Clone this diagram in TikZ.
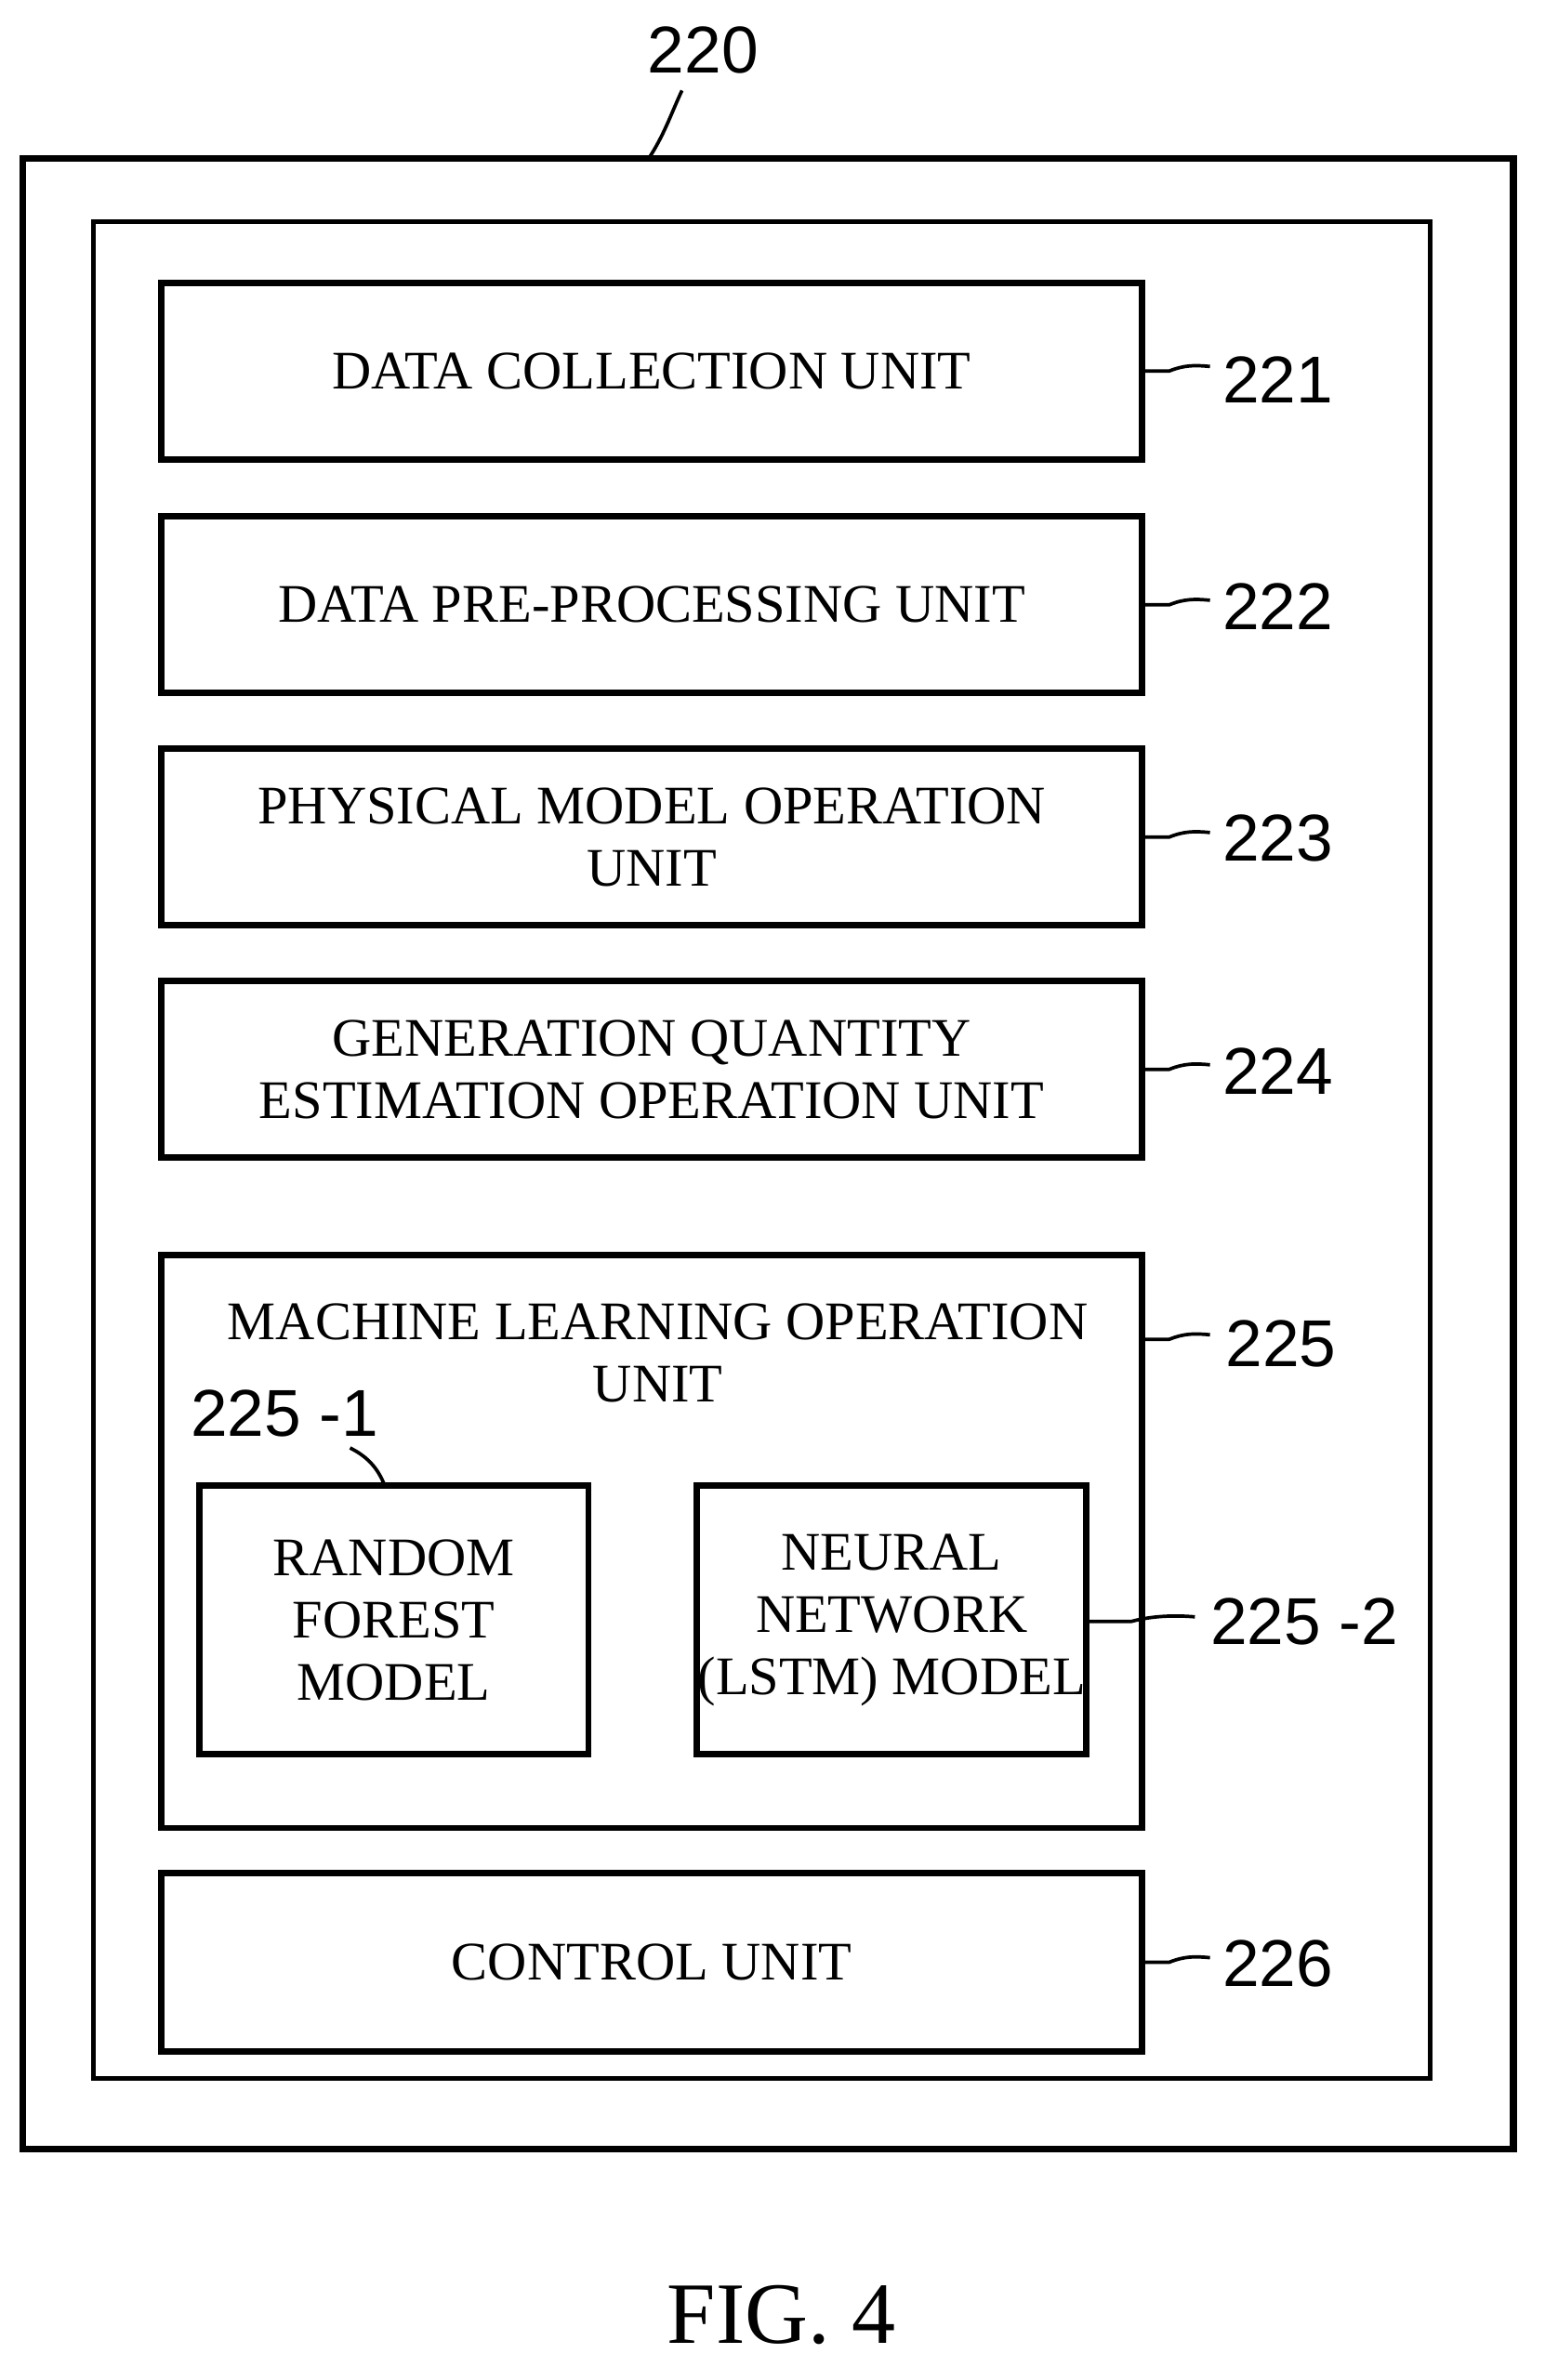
\documentclass[tikz,border=0pt]{standalone}
\usepackage{fontspec}
\setmainfont{Liberation Serif}
\newfontfamily\numfont{Liberation Sans}
\usetikzlibrary{positioning}
\tikzset{
  unitbox/.style={draw, line width=2.4pt, align=center, font=\fontsize{20.5}{23.5}\selectfont},
  reflabel/.style={font=\numfont\fontsize{25}{28}\selectfont, anchor=west, inner sep=0pt},
  leader/.style={line width=1.3pt}
}
\begin{document}
\begin{tikzpicture}[x=0.02cm, y=-0.02cm]
  \useasboundingbox (0,0) rectangle (1024,1578);
  % frames
  \draw[line width=2.6pt] (15,105) rectangle (1003,1425);
  \draw[line width=2pt] (62,147) rectangle (948,1378);
  % units
  \node[unitbox, minimum width=650*0.02cm, minimum height=117*0.02cm] (dc) at (432,246) {DATA COLLECTION UNIT};
  \node[unitbox, minimum width=650*0.02cm, minimum height=117*0.02cm] (dp) at (432,401) {DATA PRE-PROCESSING UNIT};
  \node[unitbox, minimum width=650*0.02cm, minimum height=117*0.02cm] (pm) at (432,555) {PHYSICAL MODEL OPERATION\\UNIT};
  \node[unitbox, minimum width=650*0.02cm, minimum height=117*0.02cm] (ge) at (432,709) {GENERATION QUANTITY\\ESTIMATION OPERATION UNIT};
  \draw[line width=2.4pt] (107,832) rectangle (757,1212);
  \node[align=center, font=\fontsize{20.5}{23.5}\selectfont] (ml) at (436,897) {MACHINE LEARNING OPERATION\\UNIT};
  \node[unitbox, minimum width=258*0.02cm, minimum height=178*0.02cm] (rf) at (261,1074) {RANDOM\\FOREST\\MODEL};
  \node[unitbox, minimum width=258*0.02cm, minimum height=178*0.02cm, inner sep=0pt] (nn) at (591,1074) {NEURAL\\NETWORK\\(LSTM) MODEL};
  \node[unitbox, minimum width=650*0.02cm, minimum height=118*0.02cm] (cu) at (432,1301) {CONTROL UNIT};
  % reference numerals
  \node[font=\numfont\fontsize{25}{28}\selectfont] (n220) at (466,33) {220};
  \draw[leader] (430,105) .. controls (440,90) and (445,75) .. (452,60);
  \foreach \nm/\yy in {dc/246, dp/401, pm/555, ge/709, cu/1301}{
    \draw[leader] (757,\yy) -- (775,\yy) .. controls (785,\yy-4) and (792,\yy-4) .. (802,\yy-3);
  }
  \node[reflabel] at (810,252) {221};
  \node[reflabel] at (810,402) {222};
  \node[reflabel] at (810,556) {223};
  \node[reflabel] at (810,710) {224};
  \node[reflabel] at (810,1302) {226};
  \draw[leader] (757,888) -- (775,888) .. controls (785,884) and (792,884) .. (802,885);
  \node[reflabel] at (812,891) {225};
  \node[reflabel] at (126,937) {225 -1};
  \draw[leader] (255,985) .. controls (250,972) and (242,965) .. (232,960);
  \draw[leader] (720,1075) -- (750,1075) .. controls (765,1071) and (780,1071) .. (792,1072);
  \node[reflabel] at (802,1075) {225 -2};
  \node[font=\fontsize{33}{38}\selectfont] (fig) at (518,1535) {FIG. 4};
\end{tikzpicture}
\end{document}
